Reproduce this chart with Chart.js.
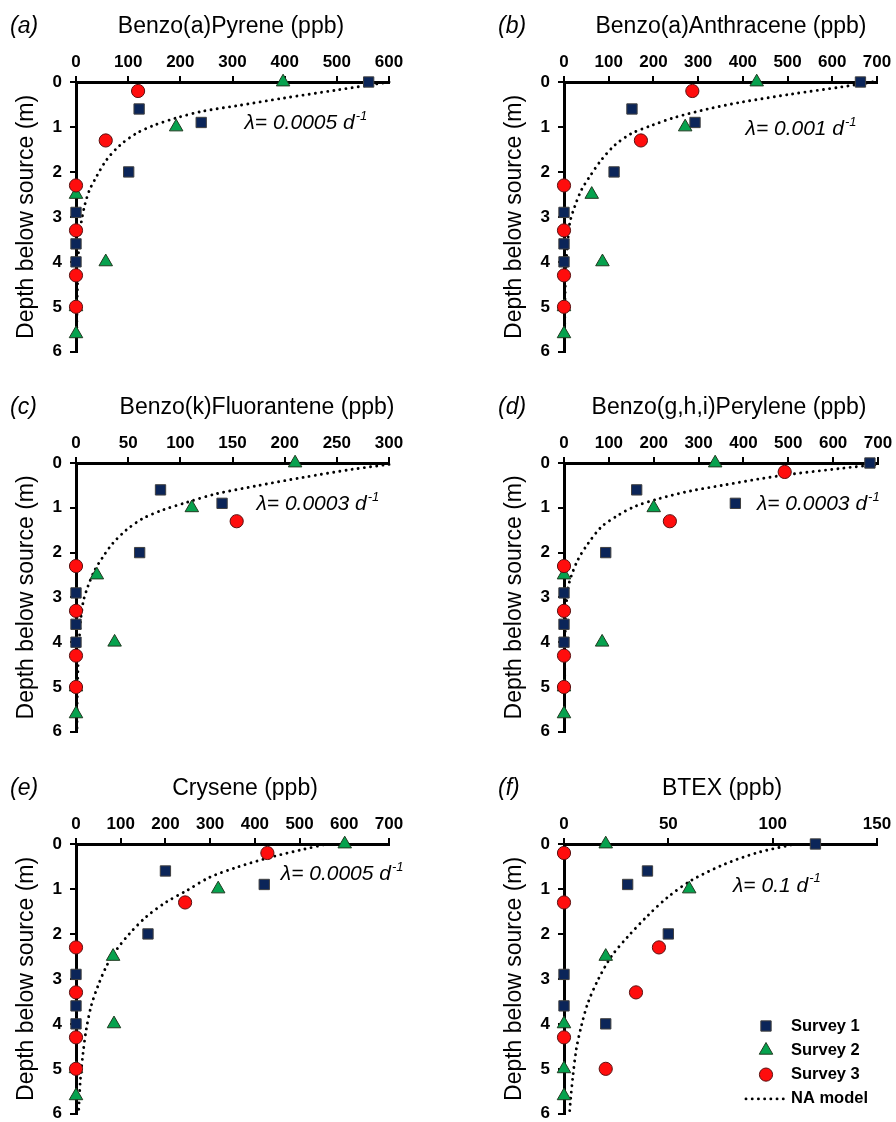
<!DOCTYPE html>
<html>
<head>
<meta charset="utf-8">
<script src="https://cdn.jsdelivr.net/npm/chart.js@4.4.1/dist/chart.umd.min.js"></script>
<style>
  html, body { margin: 0; padding: 0; background: #fff; }
  #page { position: relative; width: 896px; height: 1122px; overflow: hidden; }
  #page canvas { position: absolute; }
</style>
</head>
<body>
<div id="page">
  <canvas id="panelA" width="448" height="370" style="left:0;top:0"></canvas>
  <canvas id="panelB" width="448" height="370" style="left:448px;top:0"></canvas>
  <canvas id="panelC" width="448" height="380" style="left:0;top:370px"></canvas>
  <canvas id="panelD" width="448" height="380" style="left:448px;top:370px"></canvas>
  <canvas id="panelE" width="448" height="392" style="left:0;top:740px"></canvas>
  <canvas id="panelF" width="448" height="392" style="left:448px;top:740px"></canvas>
</div>
<script>
// sampling depths below the source (m) for each survey
const depthS1 = [0, 0.6, 0.9, 2.0, 2.9, 3.6, 4.0];
const depthS2 = [0, 1.0, 2.5, 4.0, 5.0, 5.6];
const depthS3 = [0.2, 1.3, 2.3, 3.3, 4.3, 5.0];

// concentrations (ppb), null = not plotted
const bapS1 = [561, 121, 240, 101, 0, 0, 0];
const bapS2 = [397, 192, 0, 57, 0, 0];
const bapS3 = [119, 57, 0, 0, 0, 0];
const bapModelDepth = [0, 0.18, 0.36, 0.53, 0.65, 0.8, 0.97, 1.14, 1.41, 1.74, 2.11, 2.4, 2.73, 3.13, 3.6, 4.0, 4.5, 5.0, 5.5, 6.0];
const bapModelConc = [600, 499, 397, 307, 243, 192, 148, 116, 84, 58, 39, 26, 17, 10, 6, 4, 3, 2, 1.5, 1];

const baaS1 = [663, 152, 293, 112, 0, 0, 0];
const baaS2 = [431, 271, 62, 86, 0, 0];
const baaS3 = [287, 172, 0, 0, 0, 0];
const baaModelDepth = [0, 0.11, 0.27, 0.45, 0.6, 0.79, 0.97, 1.15, 1.41, 1.74, 2.11, 2.4, 2.77, 3.13, 3.6, 4.0, 4.5, 5.0, 5.5, 6.0];
const baaModelConc = [690, 620, 508, 396, 322, 247, 195, 150, 113, 83, 57, 39, 24, 13, 8, 5, 3, 2, 1.5, 1];

const bkfS1 = [null, 81, 140, 61, 0, 0, 0];
const bkfS2 = [210, 111, 20, 37, 0, 0];
const bkfS3 = [null, 154, 0, 0, 0, 0];
const bkfModelDepth = [0.03, 0.14, 0.32, 0.51, 0.69, 0.88, 1.05, 1.24, 1.5, 1.8, 2.09, 2.39, 2.75, 3.09, 3.5, 4.0, 4.5, 5.0, 5.5, 6.0];
const bkfModelConc = [300, 265, 218, 173, 134, 106, 83, 64, 48, 35, 26, 18, 11.5, 7, 4.5, 3, 2, 1.5, 1, 1];

const bghiS1 = [682, 162, 382, 93, 0, 0, 0];
const bghiS2 = [337, 200, 0, 85, 0, 0];
const bghiS3 = [492, 236, 0, 0, 0, 0];
const bghiModelDepth = [0.04, 0.12, 0.25, 0.36, 0.49, 0.62, 0.8, 0.97, 1.17, 1.43, 1.8, 2.16, 2.53, 2.79, 3.2, 3.7, 4.2, 4.8, 5.4, 6.0];
const bghiModelConc = [693, 618, 507, 432, 358, 284, 210, 158, 120, 83, 53.5, 31, 16, 9, 5, 3, 2, 1.5, 1, 1];

const chrS1 = [null, 200, 421, 161, 0, 0, 0];
const chrS2 = [601, 318, 83, 85, 0, 0];
const chrS3 = [428, 244, 0, 0, 0, 0];
const chrModelDepth = [0.02, 0.12, 0.3, 0.52, 0.74, 1.04, 1.29, 1.62, 1.99, 2.36, 2.72, 3.16, 3.6, 4.12, 4.63, 5.22, 5.73, 5.95];
const chrModelConc = [553, 508, 433, 359, 299, 247, 202, 157, 120, 90, 68, 49, 34, 23, 16, 10, 7, 6];

const btexS1 = [120.5, 40, 30.5, 50, 0, 0, 20];
const btexS2 = [20, 60, 20, 0, 0, 0];
const btexS3 = [0, 0, 45.5, 34.5, 0, 20];
const btexModelDepth = [0.02, 0.19, 0.45, 0.81, 1.18, 1.59, 2.06, 2.5, 3.02, 3.53, 4.05, 4.56, 5.15, 5.66, 5.95];
const btexModelConc = [108.8, 92.9, 76.9, 61, 49.8, 40.2, 30.6, 22.7, 16.3, 11.5, 8.3, 5.9, 4.3, 3.2, 2.7];

const FONT = '"Liberation Sans", Arial, sans-serif';
const NAVY = '#0b2559';
const GREEN = '#06a24e';
const RED = '#ff0d0d';
const DOTS = [0.01, 6.2];

function pts(depths, conc) {
    const out = [];
    depths.forEach((d, i) => {
        if (conc[i] !== null) out.push({ x: conc[i], y: d });
    });
    return out;
}

// panel letter, title and decay-rate label
const panelText = {
    id: 'panelText',
    afterDraw(chart, args, opts) {
        const { ctx, chartArea, scales } = chart;
        const ty = chartArea.top - 55;
        ctx.save();
        ctx.fillStyle = '#000';
        ctx.textBaseline = 'middle';
        ctx.textAlign = 'left';
        ctx.font = `italic 23px ${FONT}`;
        ctx.fillText(opts.letter, chartArea.left - 66, ty);
        ctx.textAlign = 'center';
        ctx.font = `23px ${FONT}`;
        ctx.fillText(opts.title, opts.titleX, ty);

        const x = scales.x.getPixelForValue(opts.lambdaAt[0]);
        const y = scales.y.getPixelForValue(opts.lambdaAt[1]);
        ctx.textAlign = 'left';
        ctx.font = `italic 21px ${FONT}`;
        const main = `λ= ${opts.lambda} d`;
        ctx.fillText(main, x, y);
        const w = ctx.measureText(main).width;
        ctx.font = `italic 13px ${FONT}`;
        ctx.fillText('-1', x + w + 1, y - 7);
        ctx.restore();
    }
};

// legend box inside the BTEX panel
const surveyLegend = {
    id: 'surveyLegend',
    afterDraw(chart, args, opts) {
        if (!opts.show) return;
        const ctx = chart.ctx;
        ctx.save();
        chart.data.datasets.forEach((ds, i) => {
            const y = opts.top + i * opts.rowGap;
            if (ds.showLine) {
                ctx.strokeStyle = ds.borderColor;
                ctx.lineWidth = ds.borderWidth;
                ctx.lineCap = 'round';
                ctx.setLineDash(DOTS);
                ctx.beginPath();
                ctx.moveTo(opts.markerX - 20, y);
                ctx.lineTo(opts.markerX + 19, y);
                ctx.stroke();
                ctx.setLineDash([]);
            } else {
                ctx.fillStyle = ds.backgroundColor;
                ctx.strokeStyle = ds.borderColor;
                ctx.lineWidth = ds.borderWidth;
                Chart.helpers.drawPoint(ctx, {
                    pointStyle: ds.pointStyle,
                    radius: ds.pointRadius,
                    borderWidth: ds.borderWidth,
                    rotation: 0
                }, opts.markerX, y);
            }
            ctx.fillStyle = '#000';
            ctx.font = `bold 16.5px ${FONT}`;
            ctx.textAlign = 'left';
            ctx.textBaseline = 'middle';
            ctx.fillText(ds.label, opts.textX, y);
        });
        ctx.restore();
    }
};

const panels = [
    { id: 'panelA', letter: '(a)', title: 'Benzo(a)Pyrene (ppb)', titleX: 231, xMax: 600, xStep: 100,
      s1: bapS1, s2: bapS2, s3: bapS3, mDepth: bapModelDepth, mConc: bapModelConc,
      lambda: '0.0005', lambdaAt: [323, 0.92], box: { left: 76, top: 82, right: 389, bottom: 355 } },
    { id: 'panelB', letter: '(b)', title: 'Benzo(a)Anthracene (ppb)', titleX: 283, xMax: 700, xStep: 100,
      s1: baaS1, s2: baaS2, s3: baaS3, mDepth: baaModelDepth, mConc: baaModelConc,
      lambda: '0.001', lambdaAt: [406, 1.05], box: { left: 116, top: 82, right: 429, bottom: 355 } },
    { id: 'panelC', letter: '(c)', title: 'Benzo(k)Fluorantene (ppb)', titleX: 257, xMax: 300, xStep: 50,
      s1: bkfS1, s2: bkfS2, s3: bkfS3, mDepth: bkfModelDepth, mConc: bkfModelConc,
      lambda: '0.0003', lambdaAt: [173, 0.92], box: { left: 76, top: 93, right: 389, bottom: 365 } },
    { id: 'panelD', letter: '(d)', title: 'Benzo(g,h,i)Perylene (ppb)', titleX: 281, xMax: 700, xStep: 100,
      s1: bghiS1, s2: bghiS2, s3: bghiS3, mDepth: bghiModelDepth, mConc: bghiModelConc,
      lambda: '0.0003', lambdaAt: [430, 0.92], box: { left: 116, top: 93, right: 430, bottom: 365 } },
    { id: 'panelE', letter: '(e)', title: 'Crysene (ppb)', titleX: 245, xMax: 700, xStep: 100,
      s1: chrS1, s2: chrS2, s3: chrS3, mDepth: chrModelDepth, mConc: chrModelConc,
      lambda: '0.0005', lambdaAt: [458, 0.68], box: { left: 76, top: 104, right: 389, bottom: 377 } },
    { id: 'panelF', letter: '(f)', title: 'BTEX (ppb)', titleX: 274, xMax: 150, xStep: 50,
      s1: btexS1, s2: btexS2, s3: btexS3, mDepth: btexModelDepth, mConc: btexModelConc,
      lambda: '0.1', lambdaAt: [81, 0.93], box: { left: 116, top: 104, right: 429, bottom: 377 },
      legend: true }
];

function axisStyle() {
    return {
        ticks: { color: '#000', font: { family: FONT, size: 17, weight: 'bold' } },
        grid: { drawOnChartArea: false, drawTicks: true, tickLength: 6, color: '#000', lineWidth: 2 },
        border: { display: true, color: '#000', width: 3 }
    };
}

function drawPanel(p) {
    const canvas = document.getElementById(p.id);
    const b = p.box;
    const xAxis = axisStyle();
    const yAxis = axisStyle();

    return new Chart(canvas, {
        type: 'scatter',
        data: {
            datasets: [
                { label: 'Survey 1', data: pts(depthS1, p.s1), pointStyle: 'rect', pointRadius: 7.3,
                  backgroundColor: NAVY, borderColor: '#404040', borderWidth: 1, clip: false, order: 2 },
                { label: 'Survey 2', data: pts(depthS2, p.s2), pointStyle: 'triangle', pointRadius: 7.8,
                  backgroundColor: GREEN, borderColor: '#203a20', borderWidth: 1, clip: false, order: 1 },
                { label: 'Survey 3', data: pts(depthS3, p.s3), pointStyle: 'circle', pointRadius: 6.6,
                  backgroundColor: RED, borderColor: '#5a1010', borderWidth: 1, clip: false, order: 0 },
                { label: 'NA model', data: pts(p.mDepth, p.mConc), showLine: true, pointRadius: 0,
                  borderColor: '#000', borderWidth: 2.9, borderDash: DOTS, borderCapStyle: 'round',
                  tension: 0.3, fill: false, clip: false, order: 3 }
            ]
        },
        options: {
            responsive: false,
            animation: false,
            events: [],
            layout: { padding: { left: 0, top: 0, right: canvas.width - b.right, bottom: canvas.height - b.bottom } },
            scales: {
                x: {
                    type: 'linear', position: 'top', min: 0, max: p.xMax,
                    ticks: { ...xAxis.ticks, stepSize: p.xStep, padding: 3, maxRotation: 0 },
                    grid: xAxis.grid,
                    border: xAxis.border,
                    afterFit: s => { s.height = b.top; }
                },
                y: {
                    type: 'linear', position: 'left', reverse: true, min: 0, max: 6,
                    ticks: { ...yAxis.ticks, stepSize: 1, padding: 8 },
                    grid: yAxis.grid,
                    border: yAxis.border,
                    title: {
                        display: true, text: 'Depth below source (m)', color: '#000',
                        font: { family: FONT, size: 23 },
                        padding: { top: b.left - 49 - 13.8, bottom: 0 }
                    },
                    afterFit: s => { s.width = b.left; }
                }
            },
            plugins: {
                legend: { display: false },
                tooltip: { enabled: false },
                panelText: { letter: p.letter, title: p.title, titleX: p.titleX, lambda: p.lambda, lambdaAt: p.lambdaAt },
                surveyLegend: { show: !!p.legend, markerX: 318, textX: 343, top: 286, rowGap: 24.3 }
            }
        },
        plugins: [panelText, surveyLegend]
    });
}

panels.forEach(drawPanel);
</script>
</body>
</html>
